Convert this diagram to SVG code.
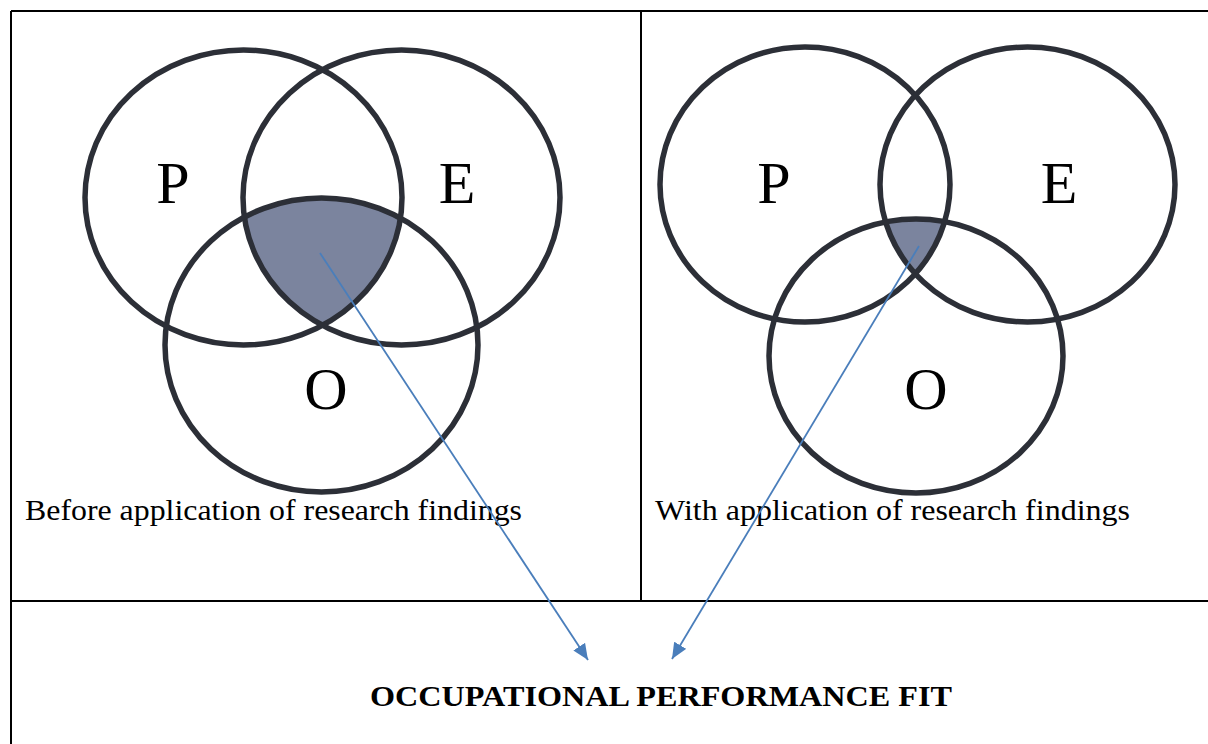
<svg xmlns="http://www.w3.org/2000/svg" width="1208" height="744" viewBox="0 0 1208 744">
  <style>
    .grid { stroke: #000; stroke-width: 2; fill: none; }
    .ring { fill: none; stroke: #2c2f37; stroke-width: 5.5; }
    .core { fill: #7b849e; }
    .letter { font-family: "Liberation Serif", "Times New Roman", serif; font-size: 60px; fill: #000; text-anchor: middle; }
    .caption { font-family: "Liberation Serif", "Times New Roman", serif; font-size: 30px; fill: #000; }
    .title { font-family: "Liberation Serif", "Times New Roman", serif; font-size: 30px; font-weight: bold; fill: #000; }
    .link { stroke: #4a7ebb; stroke-width: 1.8; fill: none; }
  </style>
  <defs>
    <marker id="head" markerUnits="userSpaceOnUse" markerWidth="18" markerHeight="14" refX="16" refY="7" orient="auto">
      <path d="M0,0 L16,7 L0,14 Z" fill="#4a7ebb"/>
    </marker>
    <!-- left set: P and E ellipses used as clips for the shared core -->
    <clipPath id="clipP1"><ellipse cx="243.5" cy="197.5" rx="158.5" ry="147.5"/></clipPath>
    <clipPath id="clipE1"><ellipse cx="401.5" cy="197.5" rx="158.5" ry="147.5"/></clipPath>
    <!-- right set -->
    <clipPath id="clipP2"><ellipse cx="805" cy="184.5" rx="145" ry="137.5"/></clipPath>
    <clipPath id="clipE2"><ellipse cx="1027.5" cy="184.5" rx="147.5" ry="137.5"/></clipPath>
  </defs>

  <rect width="1208" height="744" fill="#fff"/>

  <!-- table frame -->
  <g id="table">
    <line class="grid" x1="11" y1="11" x2="1208" y2="11"/>
    <line class="grid" x1="11" y1="11" x2="11" y2="744"/>
    <line class="grid" x1="641" y1="11" x2="641" y2="601"/>
    <line class="grid" x1="11" y1="601" x2="1208" y2="601"/>
  </g>

  <!-- before: wide overlap -->
  <g id="venn-before">
    <g clip-path="url(#clipE1)">
      <g clip-path="url(#clipP1)">
        <ellipse class="core" cx="321.5" cy="345" rx="156.5" ry="147"/>
      </g>
    </g>
    <ellipse id="before-P" class="ring" cx="243.5" cy="197.5" rx="158.5" ry="147.5"/>
    <ellipse id="before-E" class="ring" cx="401.5" cy="197.5" rx="158.5" ry="147.5"/>
    <ellipse id="before-O" class="ring" cx="321.5" cy="345" rx="156.5" ry="147"/>
    <text class="letter" x="173" y="203">P</text>
    <text class="letter" x="457" y="203">E</text>
    <text class="letter" x="326" y="409">O</text>
    <text class="caption" x="25" y="520" textLength="497" lengthAdjust="spacingAndGlyphs">Before application of research findings</text>
  </g>

  <!-- with: narrow overlap -->
  <g id="venn-with">
    <g clip-path="url(#clipE2)">
      <g clip-path="url(#clipP2)">
        <ellipse class="core" cx="916" cy="356" rx="147" ry="137"/>
      </g>
    </g>
    <ellipse id="with-P" class="ring" cx="805" cy="184.5" rx="145" ry="137.5"/>
    <ellipse id="with-E" class="ring" cx="1027.5" cy="184.5" rx="147.5" ry="137.5"/>
    <ellipse id="with-O" class="ring" cx="916" cy="356" rx="147" ry="137"/>
    <text class="letter" x="774" y="203">P</text>
    <text class="letter" x="1059" y="203">E</text>
    <text class="letter" x="926" y="409">O</text>
    <text class="caption" x="655" y="520" textLength="475" lengthAdjust="spacingAndGlyphs">With application of research findings</text>
  </g>

  <g id="fit">
    <text class="title" x="370" y="706" textLength="582" lengthAdjust="spacingAndGlyphs">OCCUPATIONAL PERFORMANCE FIT</text>
  </g>

  <!-- pointers from each core to the fit label -->
  <g id="connectors">
    <line class="link" x1="320" y1="253" x2="588" y2="660" marker-end="url(#head)"/>
    <line class="link" x1="919" y1="246" x2="672" y2="659" marker-end="url(#head)"/>
  </g>
</svg>
